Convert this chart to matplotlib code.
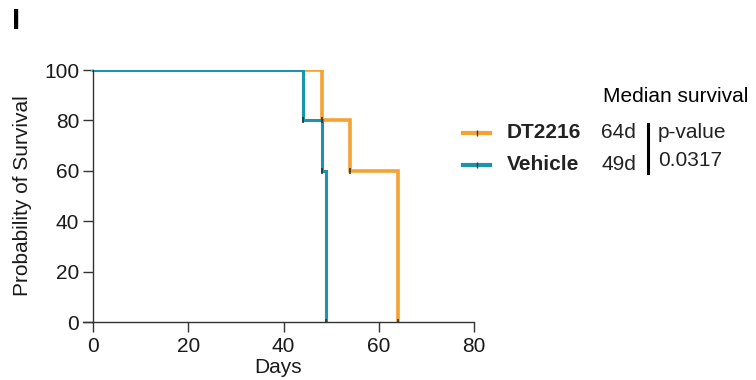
import numpy as np
import matplotlib.pyplot as plt
from matplotlib.lines import Line2D

plt.rcParams['font.family'] = ['Liberation Sans', 'DejaVu Sans']

# Kaplan-Meier steps
dt_days = [0, 48, 54, 64]
dt_surv = [100, 80, 60, 0]
veh_days = [0, 44, 48, 49]
veh_surv = [100, 80, 60, 0]

groups = ['DT2216', 'Vehicle']
medians = ['64d', '49d']
p_value = '0.0317'

orange = '#F5A233'
teal = '#1B95AD'
dark = '#333333'

fig = plt.figure(figsize=(7.56, 3.8), dpi=100)
# x axis line starts a little left of day 0 (GraphPad style)
ax = fig.add_axes([83 / 756, 1 - 322 / 380, 391 / 756, 252 / 380])

ax.step(dt_days, dt_surv, where='post', color=orange, lw=2.6, solid_joinstyle='miter')
ax.step(veh_days, veh_surv, where='post', color=teal, lw=2.2, solid_joinstyle='miter')
# event ticks
ax.plot(dt_days[1:], dt_surv[1:], ls='none', marker='|', ms=5, mew=1.2, color=dark)
ax.plot(veh_days[1:], veh_surv[1:], ls='none', marker='|', ms=5, mew=1.2, color=dark)

ax.set_xlim(-80 * 10 / 381, 80)
ax.set_ylim(0, 100)
ax.spines['left'].set_position(('data', 0))
ax.spines['left'].set_bounds(0, 100)
ax.spines['top'].set_visible(False)
ax.spines['right'].set_visible(False)
for s in ['left', 'bottom']:
    ax.spines[s].set_color(dark)
    ax.spines[s].set_linewidth(1.0)
ax.set_xticks([0, 20, 40, 60, 80])
ax.set_yticks([0, 20, 40, 60, 80, 100])
ax.tick_params(direction='out', length=7, width=1.0, color=dark, labelsize=15,
               labelcolor='#1a1a1a')
ax.tick_params(axis='x', pad=4)
ax.tick_params(axis='y', pad=3)
ax.set_xlabel('Days', fontsize=15, labelpad=1, color='#1a1a1a')
ax.set_ylabel('Probability of Survival', fontsize=15, color='#1a1a1a')
ax.yaxis.set_label_coords((32 - 83) / 391, 0.5)
ax.patch.set_alpha(0)

# panel label
fig.text(12 / 756, 1 - 21 / 380, 'I', fontsize=21, fontweight='bold', va='center')

# legend block
def fx(px):
    return px / 756

def fy(py):
    return 1 - py / 380

fig.text(fx(603), fy(97), 'Median survival', fontsize=15, va='center')
for i, (g, c) in enumerate(zip(groups, [orange, teal])):
    y = fy(133 + 32 * i)
    fig.add_artist(Line2D([fx(463), fx(490)], [y, y], color=c, lw=3, transform=fig.transFigure))
    fig.add_artist(Line2D([fx(476.5)], [y], ls='none', marker='|', ms=5, mew=1.0, color=dark,
                          transform=fig.transFigure))
    fig.text(fx(507), y, g, fontsize=15, fontweight='bold', va='center', color='#222222')
    fig.text(fx(601), y, medians[i], fontsize=15, va='center', color='#222222')
fig.add_artist(Line2D([fx(648), fx(648)], [fy(124), fy(173)], color='black', lw=2.2,
                      transform=fig.transFigure))
fig.text(fx(658), fy(133), 'p-value', fontsize=15, va='center', color='#222222')
fig.text(fx(658), fy(160), p_value, fontsize=15, va='center', color='#222222')

fig.savefig('out.png', dpi=100)
